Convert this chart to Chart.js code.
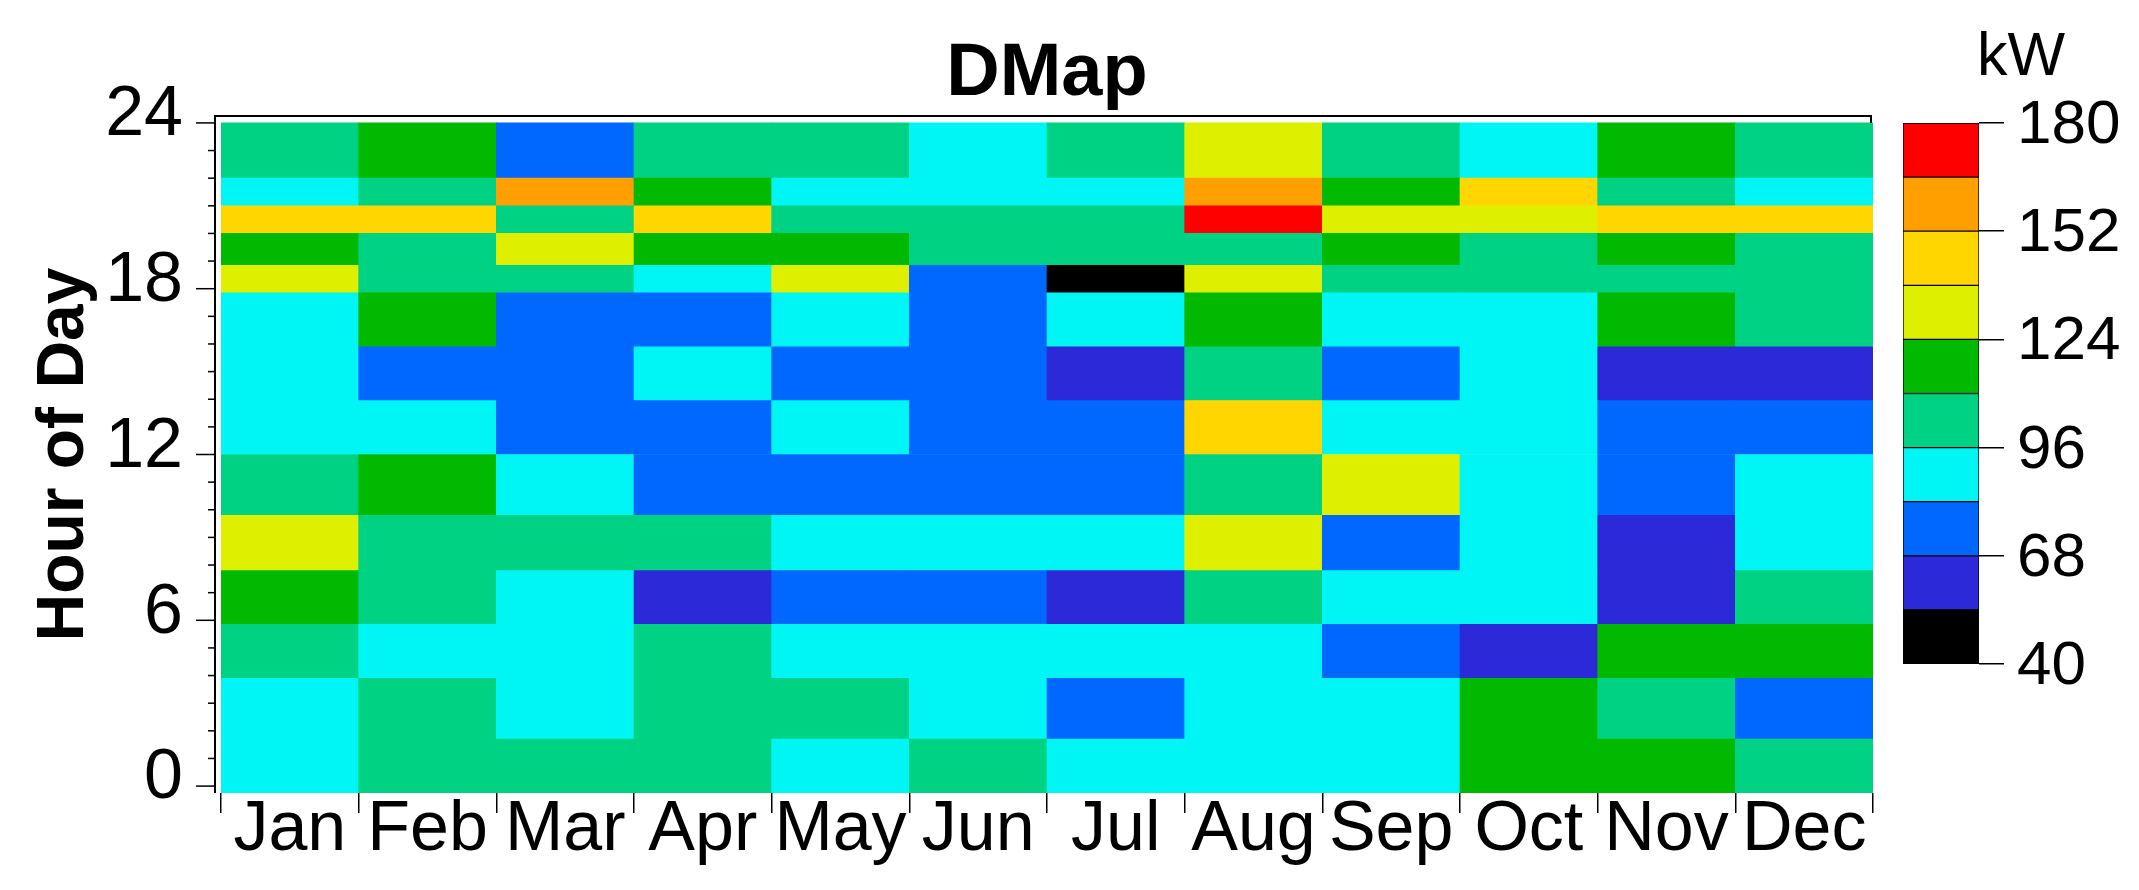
<!DOCTYPE html>
<html>
<head>
<meta charset="utf-8">
<title>DMap</title>
<script src="https://cdn.jsdelivr.net/npm/chart.js@4.4.1/dist/chart.umd.min.js"></script>
<style>
  body{margin:0;background:#fff;}
  #wrap{position:relative;width:2139px;height:890px;}
  #map{position:absolute;left:0;top:0;}
  #bar{position:absolute;left:1880px;top:0;}
</style>
</head>
<body>
<div id="wrap">
  <canvas id="map" width="2139" height="890"></canvas>
  <canvas id="bar" width="259" height="890"></canvas>
</div>
<script>
const months=['Jan','Feb','Mar','Apr','May','Jun','Jul','Aug','Sep','Oct','Nov','Dec'];

// hour bands, bottom to top (edges)
const rowStart=[-0.25,1.7,3.9,5.85,7.8,9.8,12,13.95,15.9,17.85,18.85,20,21,22];
const rowEnd=[1.7,3.9,5.85,7.8,9.8,12,13.95,15.9,17.85,18.85,20,21,22,24];

// kW per band and month, same order as rowStart
const kw=[
  [89,103,103,103,89,103,89,89,89,117,117,103],   // 0-2
  [89,103,89,103,103,89,75,89,89,117,103,75],     // 2-4
  [103,89,89,103,89,89,89,89,75,61,117,117],      // 4-6
  [117,103,89,61,75,75,61,103,89,89,61,103],      // 6-8
  [131,103,103,103,89,89,89,131,75,89,61,89],     // 8-10
  [103,117,89,75,75,75,75,103,131,89,75,89],      // 10-12
  [89,89,75,75,89,75,75,145,89,89,75,75],         // 12-14
  [89,75,75,89,75,75,61,103,75,89,61,61],         // 14-16
  [89,117,75,75,89,75,89,117,89,89,117,103],      // 16-18
  [131,103,103,89,131,75,47,131,103,103,103,103], // 18-19
  [117,103,131,117,117,103,103,103,117,103,117,103], // 19-20
  [145,145,103,145,103,103,103,173,131,131,145,145], // 20-21
  [89,103,159,117,89,89,89,159,117,145,103,89],   // 21-22
  [103,117,75,103,103,89,103,131,103,89,117,103]  // 22-24
];

// colour scale
const binEdges=[40,54,68,82,96,110,124,138,152,166,180];
const binColors=['#000000','#2c29d8','#0068ff','#00f6f4','#00d283','#00b900','#def000','#ffd600','#ffa000','#ff0000'];
const barTicks=[40,68,96,124,152,180];
const hourTicks=[0,6,12,18,24];

const narrow='"Liberation Sans Narrow", "Arial Narrow", "Liberation Sans", Arial, sans-serif';

function colorOf(v){
  for(let i=0;i<binColors.length;i++){
    if(v<binEdges[i+1]) return binColors[i];
  }
  return binColors[binColors.length-1];
}

const rows=rowStart.map((lo,r)=>({
  label:lo+'-'+rowEnd[r],
  data:kw[r].map(()=>[lo,rowEnd[r]]),
  backgroundColor:kw[r].map(colorOf),
  borderWidth:0,
  grouped:false,
  barPercentage:1,
  categoryPercentage:1
}));

// frame line + hour ticks on the left
const frame={
  id:'frame',
  afterDatasetsDraw(chart){
    const {ctx,chartArea:a,scales:{y}}=chart;
    const x0=a.left-6;
    ctx.save();
    ctx.strokeStyle='#000';
    ctx.lineWidth=2;
    ctx.beginPath();
    ctx.moveTo(x0,a.bottom);
    ctx.lineTo(x0,a.top);
    ctx.lineTo(a.right-2,a.top);
    ctx.lineTo(a.right-2,y.getPixelForValue(24));
    ctx.stroke();
    ctx.lineWidth=1.5;
    for(let h=0;h<=24;h++){
      const py=y.getPixelForValue(h);
      const len=hourTicks.includes(h)?19:7;
      ctx.beginPath();
      ctx.moveTo(x0-len,py);
      ctx.lineTo(x0,py);
      ctx.stroke();
    }
    ctx.restore();
  }
};

new Chart(document.getElementById('map'),{
  type:'bar',
  data:{labels:months,datasets:rows},
  options:{
    responsive:false,
    animation:false,
    devicePixelRatio:1,
    layout:{padding:{left:0,right:266,top:0,bottom:0}},
    plugins:{
      legend:{display:false},
      tooltip:{enabled:false},
      title:{
        display:true,
        text:'DMap',
        fullSize:false,
        color:'#000',
        font:{family:narrow,size:74,weight:'bold',lineHeight:1},
        padding:{top:38,bottom:4}
      }
    },
    scales:{
      x:{
        afterFit(s){ s.height=97; },
        grid:{drawOnChartArea:false,tickLength:20,color:'#000',lineWidth:1.5,offset:true},
        border:{display:false},
        ticks:{font:{family:narrow,size:70,lineHeight:1},color:'#000',padding:-17,maxRotation:0,autoSkip:false}
      },
      y:{
        min:-0.25,
        max:24.25,
        afterFit(s){ s.width=221; },
        afterBuildTicks(s){ s.ticks=hourTicks.map(v=>({value:v})); },
        grid:{display:false,drawTicks:false},
        border:{display:false},
        ticks:{font:{family:narrow,size:70},color:'#000',padding:38,labelOffset:-7},
        title:{
          display:true,
          text:'Hour of Day',
          color:'#000',
          font:{family:'"Liberation Sans", Arial, sans-serif',size:66,weight:'bold'},
          padding:{top:25,bottom:0}
        }
      }
    }
  },
  plugins:[frame]
});

// colour bar
const bands=binColors.map((c,i)=>({
  label:binEdges[i]+'-'+binEdges[i+1],
  data:[[binEdges[i],binEdges[i+1]]],
  backgroundColor:c,
  borderColor:'#000',
  borderWidth:1,
  borderSkipped:false,
  grouped:false,
  barPercentage:1,
  categoryPercentage:1
}));

new Chart(document.getElementById('bar'),{
  type:'bar',
  data:{labels:[''],datasets:bands},
  options:{
    responsive:false,
    animation:false,
    devicePixelRatio:1,
    layout:{padding:{left:23,right:0,top:0,bottom:226}},
    plugins:{
      legend:{display:false},
      tooltip:{enabled:false},
      title:{
        display:true,
        text:'kW',
        color:'#000',
        font:{family:narrow,size:61,weight:'normal',lineHeight:1},
        padding:{top:28,bottom:34}
      }
    },
    scales:{
      x:{display:false},
      y:{
        position:'right',
        min:40,
        max:180,
        afterFit(s){ s.width=160; },
        afterBuildTicks(s){ s.ticks=barTicks.map(v=>({value:v})); },
        grid:{drawOnChartArea:false,tickLength:25,color:'#000',lineWidth:1.5},
        border:{display:false},
        ticks:{font:{family:narrow,size:62},color:'#000',padding:13,labelOffset:3}
      }
    }
  }
});
</script>
</body>
</html>
